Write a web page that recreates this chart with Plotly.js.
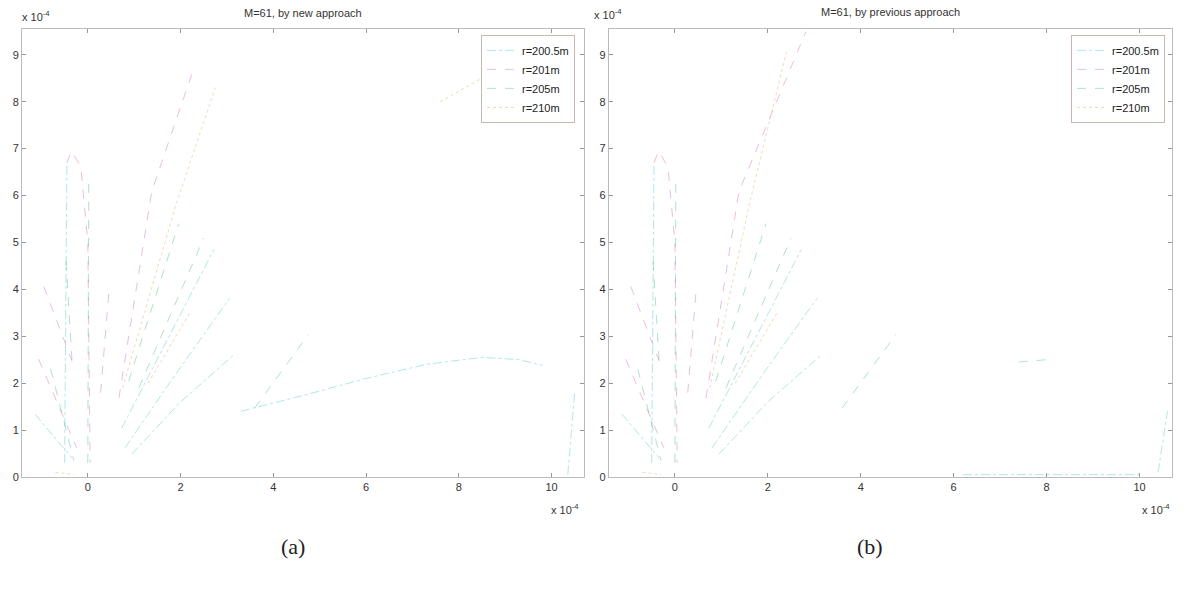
<!DOCTYPE html>
<html>
<head>
<meta charset="utf-8">
<script src="https://cdn.plot.ly/plotly-3.0.1.min.js"></script>
<style>html,body{margin:0;padding:0;background:#fff;}#chart{width:1187px;height:591px;}</style>
</head>
<body>
<div id="chart"></div>
<script>
// values in units of 1e-4 (segments separated by null)
const seriesNames = ["r=200.5m", "r=201m", "r=205m", "r=210m"];
const xTicks = [0, 2, 4, 6, 8, 10];
const yTicks = [0, 1, 2, 3, 4, 5, 6, 7, 8, 9];

// (a) new approach
const a_s1_x = [-0.5, -0.45, null, 0.73, 1.7, 2.72, null, 0.8, 1.9, 3.06, null, 0.95, 2.0, 3.17, null, 3.3, 4.7, 6.0, 7.3, 8.5, 9.3, 9.8, null, 10.35, 10.5, null, -1.14, -0.34];
const a_s1_y = [0.3, 6.7, null, 1.04, 2.9, 4.85, null, 0.62, 2.2, 3.81, null, 0.49, 1.6, 2.62, null, 1.4, 1.75, 2.1, 2.4, 2.55, 2.5, 2.38, null, 0.05, 1.8, null, 1.34, 0.4];
const a_s2_x = [-0.45, -0.35, -0.15, 0.0, 0.05, null, -1.06, -0.24, null, 0.67, 1.38, 2.3, null, 0.45, 0.26, null, -0.95, -0.34];
const a_s2_y = [6.7, 6.95, 6.6, 5.0, 0.3, null, 2.51, 0.62, null, 1.68, 6.09, 8.75, null, 3.9, 1.6, null, 4.06, 2.47];
const a_s3_x = [-0.47, -0.34, null, 1.1, 2.5, null, 0.88, 1.96, null, 3.6, 4.76, null, -0.8, -0.3, null, 0.0, 0.02];
const a_s3_y = [4.6, 2.47, null, 1.9, 5.09, null, 2.04, 5.4, null, 1.47, 3.04, null, 2.3, 0.35, null, 0.3, 6.3];
const a_s4_x = [0.75, 1.9, 2.75, null, 7.6, 8.5, null, -0.7, -0.3, null, 1.3, 2.2];
const a_s4_y = [1.9, 5.8, 8.3, null, 8.0, 8.5, null, 0.1, 0.05, null, 2.0, 3.5];

// (b) previous approach
const b_s1_x = [-0.5, -0.45, null, 0.73, 1.7, 2.72, null, 0.8, 1.9, 3.06, null, 0.95, 2.0, 3.17, null, 6.2, 8.0, 10.0, null, 10.4, 10.6, null, -1.14, -0.34];
const b_s1_y = [0.3, 6.7, null, 1.04, 2.9, 4.85, null, 0.62, 2.2, 3.81, null, 0.49, 1.6, 2.62, null, 0.05, 0.05, 0.05, null, 0.1, 1.4, null, 1.34, 0.4];
const b_s2_x = [-0.45, -0.35, -0.15, 0.0, 0.05, null, -1.06, -0.24, null, 0.67, 1.38, 2.82, null, 0.45, 0.26, null, -0.95, -0.34];
const b_s2_y = [6.7, 6.95, 6.6, 5.0, 0.3, null, 2.51, 0.62, null, 1.68, 6.09, 9.49, null, 3.9, 1.6, null, 4.06, 2.47];
const b_s3_x = [-0.47, -0.34, null, 1.1, 2.5, null, 0.88, 1.96, null, 3.6, 4.76, null, -0.8, -0.3, null, 0.0, 0.02, null, 7.4, 8.0];
const b_s3_y = [4.6, 2.47, null, 1.9, 5.09, null, 2.04, 5.4, null, 1.47, 3.04, null, 2.3, 0.35, null, 0.3, 6.3, null, 2.45, 2.5];
const b_s4_x = [0.75, 1.6, 2.4, null, -0.7, -0.3, null, 1.3, 2.2];
const b_s4_y = [1.9, 5.8, 9.06, null, 0.1, 0.05, null, 2.0, 3.5];

const colors = ["#3cc6c6", "#d25cb8", "#3cb878", "#e0a050"];
const dashes = ["dashdot", "dash", "dash", "dot"];

const aX = [a_s1_x, a_s2_x, a_s3_x, a_s4_x], aY = [a_s1_y, a_s2_y, a_s3_y, a_s4_y];
const bX = [b_s1_x, b_s2_x, b_s3_x, b_s4_x], bY = [b_s1_y, b_s2_y, b_s3_y, b_s4_y];

const traces = [];
for (let i = 0; i < 4; i++) {
  traces.push({x: aX[i], y: aY[i], name: seriesNames[i], type: "scatter", mode: "lines",
    xaxis: "x", yaxis: "y", legend: "legend", connectgaps: false, opacity: 0.4,
    line: {color: colors[i], width: 1, dash: dashes[i]}});
}
for (let i = 0; i < 4; i++) {
  traces.push({x: bX[i], y: bY[i], name: seriesNames[i], type: "scatter", mode: "lines",
    xaxis: "x2", yaxis: "y2", legend: "legend2", connectgaps: false, opacity: 0.4,
    line: {color: colors[i], width: 1, dash: dashes[i]}});
}

const tickFont = {family: "Liberation Sans, Arial, sans-serif", size: 11, color: "#333"};
function xax(dom, anchor) {
  return {domain: dom, anchor: anchor, range: [-1.42, 10.7], tickvals: xTicks, ticktext: xTicks.map(String),
    ticks: "inside", ticklen: 4, tickcolor: "#999", showline: true, linecolor: "#bbb", linewidth: 1,
    mirror: "ticks", showgrid: false, zeroline: false, tickfont: tickFont};
}
function yax(anchor) {
  return {domain: [0.193, 0.951], anchor: anchor, range: [0, 9.55], tickvals: yTicks, ticktext: yTicks.map(String),
    ticks: "inside", ticklen: 4, tickcolor: "#999", showline: true, linecolor: "#bbb", linewidth: 1,
    mirror: "ticks", showgrid: false, zeroline: false, tickfont: tickFont};
}
const legFont = {family: "Liberation Sans, Arial, sans-serif", size: 11, color: "#222"};
const legBase = {yanchor: "top", xanchor: "right", bgcolor: "#fff", bordercolor: "#c9b8b0", borderwidth: 1,
  font: legFont, tracegroupgap: 0, itemwidth: 30};

const annFont = {family: "Liberation Sans, Arial, sans-serif", size: 11, color: "#333"};
const capFont = {family: "Liberation Serif, DejaVu Serif, serif", size: 22, color: "#222"};
const layout = {
  width: 1187, height: 591, margin: {l: 0, r: 0, t: 0, b: 0},
  paper_bgcolor: "#fff", plot_bgcolor: "#fff", showlegend: true,
  xaxis: xax([0.0185, 0.492], "y"), yaxis: yax("x"),
  xaxis2: xax([0.513, 0.9874], "y2"), yaxis2: yax("x2"),
  legend: Object.assign({x: 0.4844, y: 0.941}, legBase),
  legend2: Object.assign({x: 0.9815, y: 0.941}, legBase),
  annotations: [
    {text: "M=61, by new approach", xref: "paper", yref: "paper", x: 303/1187, y: 1 - 13/591, showarrow: false, font: annFont, xanchor: "center", yanchor: "middle"},
    {text: "M=61, by previous approach", xref: "paper", yref: "paper", x: 890/1187, y: 1 - 12/591, showarrow: false, font: annFont, xanchor: "center", yanchor: "middle"},
    {text: "x 10<sup>-4</sup>", xref: "paper", yref: "paper", x: 20/1187, y: 1 - 16/591, showarrow: false, font: annFont, xanchor: "left", yanchor: "middle"},
    {text: "x 10<sup>-4</sup>", xref: "paper", yref: "paper", x: 592/1187, y: 1 - 14/591, showarrow: false, font: annFont, xanchor: "left", yanchor: "middle"},
    {text: "x 10<sup>-4</sup>", xref: "paper", yref: "paper", x: 549/1187, y: 1 - 509/591, showarrow: false, font: annFont, xanchor: "left", yanchor: "middle"},
    {text: "x 10<sup>-4</sup>", xref: "paper", yref: "paper", x: 1140/1187, y: 1 - 509/591, showarrow: false, font: annFont, xanchor: "left", yanchor: "middle"},
    {text: "(a)", xref: "paper", yref: "paper", x: 293/1187, y: 1 - 546/591, showarrow: false, font: capFont, xanchor: "center", yanchor: "middle"},
    {text: "(b)", xref: "paper", yref: "paper", x: 870/1187, y: 1 - 546/591, showarrow: false, font: capFont, xanchor: "center", yanchor: "middle"}
  ]
};
Plotly.newPlot("chart", traces, layout, {displayModeBar: false, staticPlot: true});
</script>
</body>
</html>
